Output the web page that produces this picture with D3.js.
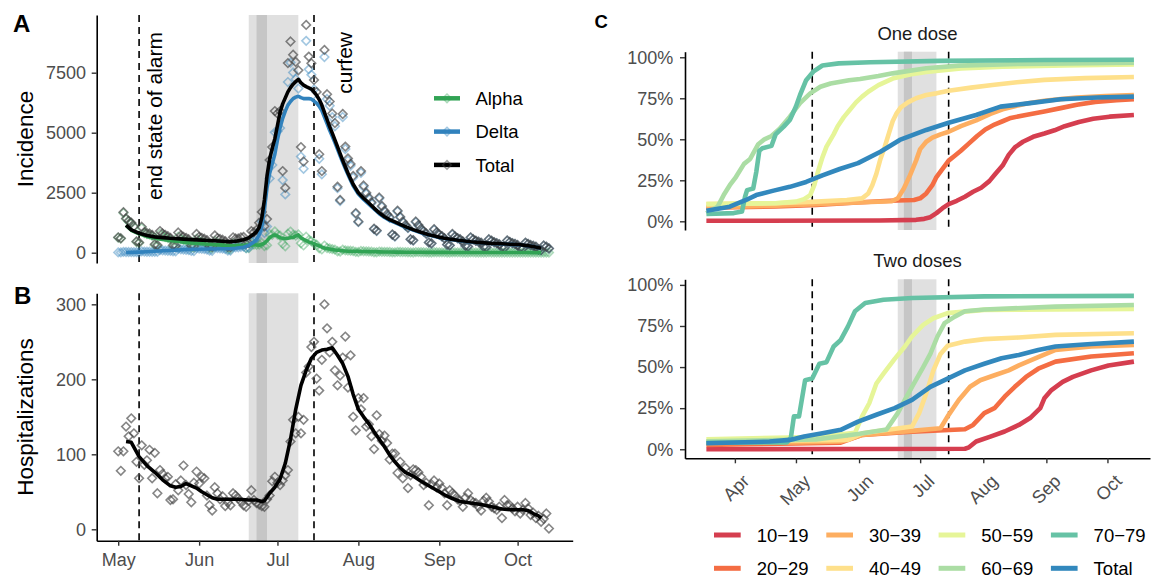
<!DOCTYPE html>
<html>
<head>
<meta charset="utf-8">
<script src="https://cdn.jsdelivr.net/npm/d3@7"></script>
<style>
  body { margin: 0; background: #fff; }
  text { font-family: "Liberation Sans", Arial, sans-serif; }
</style>
</head>
<body>
<script>
// ---- data -------------------------------------------------------------
// daily points start on May 1 2021 (index = days since May 1)
var totalCases = [
  640, 600, 1690, 1430, 1330, 1250, 1100,
  470, 430, 1080, 860, 820, 800, 740,
  350, 320, 900, 800, 740, 690, 620,
  310, 290, 840, 720, 660, 620, 560,
  290, 270, 780, 660, 620, 580, 520,
  270, 250, 720, 610, 570, 540, 480,
  240, 230, 640, 590, 590, 640, 660,
  380, 400, 900, 850, 950, 1250, 1700,
  1100, 1400, 3860, 4400, 5900, 5800, 5900,
  3400, 2700, 7900, 8800, 8250, 7950, 7600,
  4400, 3800, 9490, 8170, 7890, 7200, 6700,
  4100, 3400, 8450, 6600, 6300, 5800, 5400,
  2750, 2200, 5780, 4420, 3930, 3700, 3200,
  1650, 1300, 3400, 2800, 2500, 2300, 2100,
  1000, 920, 2300, 1950, 1750, 1600, 1480,
  760, 690, 1750, 1500, 1300, 1150, 1050,
  560, 520, 1300, 1150, 1000, 900, 800,
  430, 390, 980, 850, 760, 690, 600,
  340, 310, 780, 680, 610, 560, 470,
  290, 260, 640, 560, 500, 460, 420,
  250, 230, 560, 500, 440, 400, 350,
  230, 210, 510, 450, 400, 370, 320,
  200, 180, 420, 370, 320, 290, 250,
  130, 110, 300, 250, 180
];
var alphaCases = [
  627, 588, 1656, 1401, 1303, 1225, 1078,
  447, 409, 1026, 817, 779, 760, 703,
  308, 282, 792, 704, 651, 607, 546,
  248, 232, 672, 576, 528, 496, 448,
  215, 200, 577, 488, 459, 429, 385,
  184, 170, 490, 415, 388, 367, 326,
  149, 143, 397, 366, 366, 397, 409,
  190, 190, 400, 340, 330, 340, 400,
  275, 308, 772, 748, 885, 754, 708,
  374, 270, 790, 880, 743, 716, 760,
  396, 304, 664, 531, 473, 396, 335,
  185, 136, 296, 198, 176, 151, 130,
  61, 48, 127, 97, 86, 81, 70,
  35, 27, 71, 59, 53, 48, 44,
  20, 18, 46, 39, 35, 32, 30,
  15, 14, 35, 30, 26, 23, 21,
  11, 10, 26, 23, 20, 18, 16,
  9, 8, 20, 17, 15, 14, 12,
  7, 6, 16, 14, 12, 11, 9,
  6, 5, 13, 11, 10, 9, 8,
  5, 5, 11, 10, 9, 8, 7,
  5, 4, 10, 9, 8, 7, 6,
  4, 4, 8, 7, 6, 6, 5,
  3, 2, 6, 5, 4
];
var deltaCases = [
  13, 12, 34, 29, 27, 25, 22,
  23, 21, 54, 43, 41, 40, 37,
  42, 38, 108, 96, 89, 83, 74,
  62, 58, 168, 144, 132, 124, 112,
  75, 70, 203, 172, 161, 151, 135,
  86, 80, 230, 195, 182, 173, 154,
  91, 87, 243, 224, 224, 243, 251,
  190, 210, 500, 510, 620, 910, 1300,
  825, 1092, 3088, 3652, 5015, 5046, 5192,
  3026, 2430, 7110, 7920, 7507, 7234, 6840,
  4004, 3496, 8826, 7639, 7417, 6804, 6365,
  3915, 3264, 8154, 6402, 6124, 5649, 5270,
  2689, 2152, 5653, 4323, 3844, 3619, 3130,
  1615, 1273, 3329, 2741, 2447, 2252, 2056,
  980, 902, 2254, 1911, 1715, 1568, 1450,
  745, 676, 1715, 1470, 1274, 1127, 1029,
  549, 510, 1274, 1127, 980, 882, 784,
  421, 382, 960, 833, 745, 676, 588,
  333, 304, 764, 666, 598, 549, 461,
  284, 255, 627, 549, 490, 451, 412,
  245, 225, 549, 490, 431, 392, 343,
  225, 206, 500, 441, 392, 363, 314,
  196, 176, 412, 363, 314, 284, 245,
  127, 108, 294, 245, 176
];
var hospitalizations = [
  104, 78, 104, 137, 124, 148, 128,
  90, 68, 112, 86, 92, 106, 68,
  102, 48, 79, 74, 68, 70, 39,
  40, 60, 52, 65, 85, 59, 47,
  36, 62, 77, 61, 70, 68, 45,
  32, 25, 56, 48, 40, 44, 31,
  36, 32, 48, 45, 41, 37, 32,
  30, 38, 52, 39, 35, 33, 31,
  30, 40, 45, 64, 70, 62, 59,
  65, 72, 79, 117, 146, 128, 150,
  128, 146, 209, 217, 243, 250, 201,
  185, 226, 300, 268, 236, 250, 212,
  192, 205, 229, 257, 189, 232, 150,
  132, 175, 160, 175, 137, 140, 124,
  107, 152, 127, 118, 125, 115, 93,
  101, 101, 75, 90, 68, 82, 55,
  72, 80, 79, 76, 70, 59, 62,
  32, 60, 65, 56, 61, 55, 48,
  32, 52, 48, 45, 40, 38, 30,
  42, 48, 39, 36, 35, 30, 25,
  38, 42, 37, 30, 28, 26, 30,
  15, 39, 32, 32, 28, 24, 30,
  21, 26, 35, 28, 19, 22, 15,
  18, 10, 14, 21, 1
];

// smoothed (7-day) lines, days since May 1
var lineDays = [3,5,8,11,14,17,20, 25,30,35,40,43,45,48, 50,52,53,54,55,56,57,
  58,59,60,61,62,63,64,65,66,67,68,69,70,71,72,73,74,75,76,77,78,79,80,81,82,83,84,85,86,87,88,89,90,
  92,94,96,98,100,102,104,106,108,110, 113,116,119,122,125,128,131,
  135,139,143,147,150,153,156,159,162];
var totalLine = [1150,950,810,720,660,630,600, 565,535,510,480,460,480,540, 620,780,880,1050,1450,2200,3200,
  3900,4350,4750,5300,5850,6200,6450,6700,6880,7020,7130,7220,7080,6980,6920,6870,6820,6700,6560,6380,6150,5850,5550,5250,4980,4700,4420,4130,3850,3580,3320,3080,2850,
  2500,2270,2070,1860,1660,1500,1380,1280,1180,1090, 960,850,750,670,600,550,505,
  455,420,390,370,355,340,305,260,185];
var deltaLine = [10,15,25,40,60,80,95, 130,145,155,165,170,185,230, 300,450,560,740,1100,1800,2700,
  3300,3700,4100,4700,5200,5600,5900,6150,6300,6420,6480,6520,6460,6420,6420,6420,6400,6320,6230,6100,5920,5650,5380,5100,4850,4590,4320,4040,3770,3510,3260,3020,2790,
  2445,2220,2025,1820,1625,1470,1350,1255,1155,1068, 940,833,735,657,588,539,495,
  446,412,382,363,348,333,299,255,181];
var alphaLine = [1140,935,785,680,600,550,505, 435,390,355,315,290,295,310, 320,330,320,310,350,400,500,
  620,700,740,700,620,600,580,600,620,640,700,740,620,560,500,450,420,380,330,280,230,200,170,150,130,110,100,90,80,70,60,60,60,
  55,50,45,40,35,30,30,25,25,22, 20,17,15,13,12,11,10,
  9,8,8,7,7,7,6,5,4];

var hospLineDays = [3,5,8,11,14,17,20,22,24,26,28,30,32,34,36,38,42,46,50,53,55,56,58,60,62,64,66,68,70,72,74,76,78,80,82,
  84,86,88,90,92,94,96,98,100,102,104,106,108,110,113,116,119,122,125,128,131,135,139,143,147,151,155,157,159,161,162];
var hospLine = [117,116,97,85,76,66,58,56,57,61,58,55,50,46,42,40,40,40,39,39,37,38,48,56,67,88,120,160,192,212,228,236,239,240,242,
  232,221,204,180,160,150,141,130,120,110,99,90,82,76,71,64,58,52,46,41,37,35,33,30,27,26,26,25,21,18,15];

// vaccination coverage (%), [days since Apr 1, percent]
var ageGroups = ["10\u221219", "20\u221229", "30\u221239", "40\u221249", "50\u221259", "60\u221269", "70\u221279", "Total"];
var groupColors = ["#d53e4f", "#f46d43", "#fdae61", "#fee08b", "#e6f598", "#abdda4", "#66c2a5", "#3288bd"];

var oneDose = [
  [[-14,0.3],[71,0.5],[89,0.9],[93,1.5],[96,2.5],[99,5],[102,8],[105,10.5],[109,12.5],[113,15],[117,18],[121,20.5],[125,24.5],[128,29],[131.5,34],[134.5,40.5],[137.5,45],[141.5,48.5],[146.5,51.5],[152,53.5],[157,55.5],[162,58],[169,60.5],[176,62.5],[184,63.8],[196,64.8]],
  [[-14,8.3],[20,9],[40,10],[60,11.5],[76,12.5],[88,13],[91,14],[94,17],[97,22],[99,27],[102,32],[105,37],[108,40],[111,43],[115,47.5],[119,52],[123,56],[127.5,59],[131.5,61],[135.5,63],[143.5,65],[152,67],[160,69],[168,71],[177,72.8],[187.5,73.8],[196,74.4]],
  [[-14,8.5],[20,9.5],[40,10.5],[60,11.5],[77,12.2],[80,14],[83,20],[86,28],[89,37],[91,44],[94,48.5],[97,51],[101,53],[105,54.6],[111,58],[118.5,61.5],[125.5,65.5],[131.5,68.3],[137.5,70.2],[144,72],[152,73.5],[160,74.5],[168,75.4],[182,76.4],[196,77]],
  [[-14,10.5],[20,11],[40,12],[55,13],[62.5,14],[65.5,17],[67.5,22],[69.5,29],[71.5,38],[73.5,45],[75.5,53],[77.5,61],[79.5,66],[81.5,69.5],[85,72.5],[89,75],[94,77],[99,78],[105,79.6],[116,81.5],[126.5,83.1],[138.5,84.8],[152,86.2],[172,87.3],[196,88]],
  [[-14,10.5],[20,11],[30,12],[34,13.5],[37,16],[39,22],[41,31],[43,39],[45,45.5],[48.5,53],[50.5,58],[53.5,63.5],[56.5,68],[59.5,72.5],[62.5,76],[65.5,79],[70.5,83],[77.5,87],[86,89.5],[94,91],[111,93.2],[131.5,94.3],[162,95],[196,95.6]],
  [[-14,4.9],[-8.5,8.9],[-5.5,16],[-2.5,22],[0.5,27],[4.5,35],[7.5,38],[11.5,47],[14.5,50],[18,52],[22,56.5],[27,63.8],[32,72],[37,78],[42,82],[47,84],[56,86],[61.5,86.8],[70.5,88.6],[77.5,90.2],[94,93.3],[110,94.9],[141.5,96],[196,96.7]],
  [[-14,4.5],[-0.5,5],[3.5,6],[5,15],[6,19],[9,20],[10.5,30],[12,43],[13.5,44.5],[18,46],[20,53],[24,57.7],[27,61.8],[30,70],[32,77],[35,86],[38.5,91.2],[43,95],[51,96.3],[66.5,97],[101,97.8],[152,98.3],[196,98.5]],
  [[-14,6.5],[-2.5,8.9],[5.5,13],[10.5,16],[19,18.7],[27,21],[35,24],[43,28],[51.5,31.9],[60.5,35.5],[71.5,42.4],[81,49.6],[94,55.7],[105,60.1],[118.5,64.8],[130.5,69.9],[144,71.9],[160,74.4],[178,75.5],[196,76]]
];
var twoDoses = [
  [[-14,0],[113,0.3],[115,1.2],[118.5,4.7],[125.5,7.7],[132.5,10.8],[139.5,14.8],[145,19],[150,25],[152,31],[155.5,36],[161,41],[166,44],[175,48],[183.5,51],[196,53.3]],
  [[-14,2.6],[30,3.5],[52,4],[62.5,8.7],[87,10.7],[113,12.2],[117,14.8],[122.5,22],[127.5,25],[132.5,32],[137.5,38],[143,44],[149,49],[157.5,53.3],[175,56.4],[196,58.4]],
  [[-14,3.7],[30,4.2],[52,4.7],[62.5,8.7],[87,11.2],[101,12.8],[104.5,20],[110,30],[115.5,38],[120.5,42],[127.5,45],[134.5,48],[139.5,51],[149,56],[157.5,60.4],[175,62.5],[196,63.5]],
  [[-14,4.7],[55.5,5.7],[62.5,9.7],[87,13.8],[90.5,22],[94,34],[97.5,48],[101,58],[104.5,63],[113,65.5],[122.5,67],[139.5,68],[157.5,69.6],[196,70.6]],
  [[-14,6],[40,7.5],[59,10],[62.5,20],[66,28],[69.5,40],[73,46],[78.5,55],[83.5,62.5],[87,68.6],[92.5,75.7],[97.5,79.7],[104.5,82.8],[122.5,84.8],[196,85.4]],
  [[-14,4.8],[40,6],[60.5,9.3],[74.5,12],[80,22],[83.5,30],[87,38],[92.5,50],[96,58],[99.5,68.6],[103,76.7],[108,80.7],[113,84],[122.5,85],[157.5,86.8],[196,87.8]],
  [[-14,4],[25.5,4.2],[27.5,7],[29,20],[31.5,20],[34.5,42],[38,43],[41.5,52],[45,53],[48.5,62.5],[52,66.5],[55.5,74.6],[59,84],[64,89],[73,91],[87,92],[122.5,93],[196,93.3]],
  [[-14,3.7],[17,4.7],[27,5.7],[34,7.7],[43,9.7],[52,11.8],[60.5,16.8],[69.5,21],[78.5,25],[87,30],[96,38],[104.5,43],[113,48],[122.5,52],[131,55.4],[139.5,57.4],[149,60.4],[157.5,62.5],[175,64],[196,65.5]]
];

var may1 = new Date(2021, 4, 1);
var apr1 = new Date(2021, 3, 1);
var alarmEnd = new Date(2021, 4, 9);
var curfew = new Date(2021, 6, 15);
var festLight = [new Date(2021, 5, 20), new Date(2021, 6, 9)];
var festDark = [new Date(2021, 5, 23), new Date(2021, 5, 27)];

var colAlpha = "#31a354", colDelta = "#3182bd";
var font = "'Liberation Sans', Arial, sans-serif";

function dayAfter(base, n) { return new Date(base.getTime() + n * 864e5); }

// ---- svg ----------------------------------------------------------------
var svg = d3.select("body").append("svg")
  .attr("width", 1151)
  .attr("height", 579);

var xAB = d3.scaleTime()
  .domain([dayAfter(may1, -8.24), dayAfter(may1, 174.1)])
  .range([96.7, 572.7]);
var yA = d3.scaleLinear().domain([-429, 9904]).range([263, 15]);
var yB = d3.scaleLinear().domain([-15.2, 314.7]).range([540.7, 293.3]);

var diamond = "M0,-4.3L4.3,0L0,4.3L-4.3,0Z";

function styleAxis(g) {
  g.attr("font-size", 18).attr("font-family", font);
  g.select(".domain").attr("stroke", "#000").attr("stroke-width", 1.6);
  g.selectAll(".tick line").attr("stroke", "#333").attr("stroke-width", 1.4);
  g.selectAll(".tick text").attr("fill", "#4d4d4d");
}

// shaded festivity period + dashed event lines
function drawEvents(x, y) {
  var top = y.range()[1], bottom = y.range()[0];
  svg.append("rect")
    .attr("x", x(festLight[0])).attr("width", x(festLight[1]) - x(festLight[0]))
    .attr("y", top).attr("height", bottom - top)
    .attr("fill", "#e0e0e0");
  svg.append("rect")
    .attr("x", x(festDark[0])).attr("width", x(festDark[1]) - x(festDark[0]))
    .attr("y", top).attr("height", bottom - top)
    .attr("fill", "#c6c6c6");
  [alarmEnd, curfew].forEach(function(d) {
    svg.append("line")
      .attr("x1", x(d)).attr("x2", x(d))
      .attr("y1", top).attr("y2", bottom)
      .attr("stroke", "#000").attr("stroke-width", 1.6)
      .attr("stroke-dasharray", "7,5");
  });
}

function drawPoints(values, y, color, opacity) {
  svg.append("g").selectAll("path")
    .data(values)
    .enter()
    .append("path")
    .attr("d", diamond)
    .attr("transform", (v, i) => `translate(${xAB(dayAfter(may1, i))},${y(v)})`)
    .attr("fill", "none")
    .attr("stroke", color)
    .attr("stroke-opacity", opacity)
    .attr("stroke-width", 1.6);
}

function drawLine(days, values, y, color, width) {
  var line = d3.line()
    .x(d => xAB(dayAfter(may1, d[0])))
    .y(d => y(d[1]));
  svg.append("path")
    .datum(d3.zip(days, values))
    .attr("d", line)
    .attr("fill", "none")
    .attr("stroke", color)
    .attr("stroke-width", width)
    .attr("stroke-linejoin", "round");
}

// ---- panel A: incidence ----------------------------------------------------
drawEvents(xAB, yA);
drawPoints(alphaCases, yA, colAlpha, 0.4);
drawPoints(deltaCases, yA, colDelta, 0.45);
drawPoints(totalCases, yA, "#444", 0.65);
drawLine(lineDays, alphaLine, yA, colAlpha, 3.6);
drawLine(lineDays, deltaLine, yA, colDelta, 3.6);
drawLine(lineDays, totalLine, yA, "#000", 3.6);

svg.append("g")
  .attr("transform", "translate(96.7,0)")
  .call(d3.axisLeft(yA).tickValues([0, 2500, 5000, 7500]).tickFormat(d3.format("d"))
    .tickSize(5).tickPadding(5.7).tickSizeOuter(0))
  .call(styleAxis);

// annotations
[[alarmEnd, 8.6, "end state of alarm"], [curfew, 14.4, "curfew"]].forEach(function(a) {
  svg.append("text")
    .attr("transform", `translate(${xAB(dayAfter(a[0], a[1]))},${yA.range()[1] + 17}) rotate(-90)`)
    .attr("text-anchor", "end")
    .attr("font-size", 21)
    .attr("fill", "#000")
    .text(a[2]);
});

// legend A
[["Alpha", colAlpha, 0.4], ["Delta", colDelta, 0.45], ["Total", "#000", 0.5]].forEach(function(e, i) {
  var ly = 98.3 + i * 33.3;
  svg.append("line")
    .attr("x1", 434).attr("x2", 460).attr("y1", ly).attr("y2", ly)
    .attr("stroke", e[1]).attr("stroke-width", 4.5);
  svg.append("path")
    .attr("d", diamond)
    .attr("transform", `translate(447,${ly})`)
    .attr("fill", "none")
    .attr("stroke", i == 2 ? "#444" : e[1])
    .attr("stroke-opacity", e[2])
    .attr("stroke-width", 1.5);
  svg.append("text")
    .attr("x", 475.4).attr("y", ly + 6.6)
    .attr("font-size", 18.5)
    .text(e[0]);
});

// ---- panel B: hospitalizations ---------------------------------------------
drawEvents(xAB, yB);
drawPoints(hospitalizations, yB, "#444", 0.65);
drawLine(hospLineDays, hospLine, yB, "#000", 3.6);

svg.append("g")
  .attr("transform", "translate(96.7,0)")
  .call(d3.axisLeft(yB).tickValues([0, 100, 200, 300])
    .tickSize(5).tickPadding(5.7).tickSizeOuter(0))
  .call(styleAxis);

svg.append("g")
  .attr("transform", "translate(0,540.7)")
  .call(d3.axisBottom(xAB).ticks(d3.timeMonth.every(1)).tickFormat(d3.timeFormat("%b"))
    .tickSize(5).tickPadding(7.5).tickSizeOuter(0))
  .call(styleAxis);

// axis titles
[["Incidence", 139], ["Hospitalizations", 417]].forEach(function(t) {
  svg.append("text")
    .attr("transform", `translate(32.5,${t[1]}) rotate(-90)`)
    .attr("text-anchor", "middle")
    .attr("font-size", 22.5)
    .text(t[0]);
});

// ---- panel C: vaccination coverage ------------------------------------------
var xC = d3.scaleTime()
  .domain([dayAfter(apr1, -24.5), dayAfter(apr1, 203.9)])
  .range([685, 1150]);
var yC1 = d3.scaleLinear().domain([-5.3, 103.4]).range([230, 51.7]);
var yC2 = d3.scaleLinear().domain([-5.5, 103.4]).range([458.3, 279.3]);

var facets = [
  { title: "One dose", y: yC1, curves: oneDose, titleY: 40 },
  { title: "Two doses", y: yC2, curves: twoDoses, titleY: 267.3 }
];

facets.forEach(function(f) {
  drawEvents(xC, f.y);
  var line = d3.line()
    .x(d => xC(dayAfter(apr1, d[0])))
    .y(d => f.y(d[1]));
  f.curves.forEach(function(c, i) {
    svg.append("path")
      .datum(c)
      .attr("d", line)
      .attr("fill", "none")
      .attr("stroke", groupColors[i])
      .attr("stroke-width", 4.6)
      .attr("stroke-linejoin", "round");
  });
  svg.append("g")
    .attr("transform", "translate(685,0)")
    .call(d3.axisLeft(f.y).tickValues([0, 25, 50, 75, 100]).tickFormat(d => d + "%")
      .tickSize(5).tickPadding(6.7).tickSizeOuter(0))
    .call(styleAxis);
  svg.append("text")
    .attr("x", 917.5).attr("y", f.titleY)
    .attr("text-anchor", "middle")
    .attr("font-size", 18.5)
    .attr("fill", "#1a1a1a")
    .text(f.title);
});

var xAxisC = svg.append("g")
  .attr("transform", "translate(0,458.3)")
  .call(d3.axisBottom(xC).ticks(d3.timeMonth.every(1)).tickFormat(d3.timeFormat("%b"))
    .tickSize(5).tickSizeOuter(0))
  .call(styleAxis);
xAxisC.selectAll(".tick text")
  .attr("y", null).attr("dy", null)
  .attr("transform", "translate(15,24) rotate(-45)")
  .attr("text-anchor", "end");

// legend C (two rows, column-major)
ageGroups.forEach(function(g, i) {
  var col = Math.floor(i / 2), row = i % 2;
  var lx = 714 + col * 112.3, ly = 535 + row * 33.3;
  svg.append("line")
    .attr("x1", lx).attr("x2", lx + 26.7).attr("y1", ly).attr("y2", ly)
    .attr("stroke", groupColors[i]).attr("stroke-width", 5);
  svg.append("text")
    .attr("x", lx + 42.7).attr("y", ly + 6.6)
    .attr("font-size", 18.5)
    .text(g);
});

// panel tags
svg.append("text").attr("x", 13).attr("y", 32.3).attr("font-size", 24).attr("font-weight", "bold").text("A");
svg.append("text").attr("x", 14).attr("y", 303.7).attr("font-size", 24).attr("font-weight", "bold").text("B");
svg.append("text").attr("x", 594.5).attr("y", 28.3).attr("font-size", 18.5).attr("font-weight", "bold").text("C");
</script>
</body>
</html>
